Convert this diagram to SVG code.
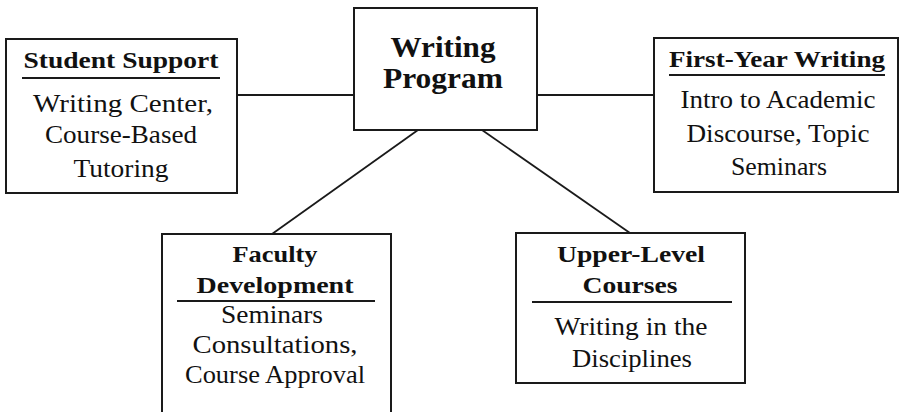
<svg xmlns="http://www.w3.org/2000/svg" width="900" height="412" viewBox="0 0 900 412">
<style>
.box{fill:#fff;stroke:#1a1a1a;stroke-width:2}
.rule{stroke:#1a1a1a;stroke-width:1.8}
.conn{stroke:#1a1a1a;stroke-width:1.8;fill:none}
.t{font-family:"Liberation Serif","Times New Roman",serif;fill:#111;text-anchor:middle}
.title{font-size:24px;font-weight:bold}
.body{font-size:25px}
.main{font-size:29px;font-weight:bold}
</style>
<rect width="900" height="412" fill="#fff"/>
<g id="connectors">
<line class="conn" x1="237" y1="95" x2="354" y2="95"/>
<line class="conn" x1="537" y1="95" x2="654" y2="95"/>
<line class="conn" x1="418" y1="130" x2="272" y2="234"/>
<line class="conn" x1="482" y1="130" x2="630" y2="233"/>
</g>
<g id="writing-program">
<rect class="box" x="354" y="8" width="183" height="122"/>
<text class="t main" x="443" y="57" textLength="105" lengthAdjust="spacingAndGlyphs">Writing</text>
<text class="t main" x="443" y="88" textLength="120" lengthAdjust="spacingAndGlyphs">Program</text>
</g>
<g id="student-support">
<rect class="box" x="6" y="39" width="231" height="154"/>
<text class="t title" x="121" y="68" textLength="195" lengthAdjust="spacingAndGlyphs">Student Support</text>
<line class="rule" x1="22" y1="78" x2="220" y2="78"/>
<text class="t body" x="123" y="112" textLength="180" lengthAdjust="spacingAndGlyphs">Writing Center,</text>
<text class="t body" x="121" y="143" textLength="152" lengthAdjust="spacingAndGlyphs">Course-Based</text>
<text class="t body" x="121" y="177" textLength="95" lengthAdjust="spacingAndGlyphs">Tutoring</text>
</g>
<g id="first-year-writing">
<rect class="box" x="654" y="38" width="244" height="154"/>
<text class="t title" x="777" y="67" textLength="216" lengthAdjust="spacingAndGlyphs">First-Year Writing</text>
<line class="rule" x1="669" y1="75" x2="885" y2="75"/>
<text class="t body" x="778" y="108" textLength="195" lengthAdjust="spacingAndGlyphs">Intro to Academic</text>
<text class="t body" x="778" y="142" textLength="183" lengthAdjust="spacingAndGlyphs">Discourse, Topic</text>
<text class="t body" x="779" y="175" textLength="96" lengthAdjust="spacingAndGlyphs">Seminars</text>
</g>
<g id="faculty-development">
<path class="box" d="M162,414 V234 H391 V414"/>
<text class="t title" x="275" y="262" textLength="85" lengthAdjust="spacingAndGlyphs">Faculty</text>
<text class="t title" x="275" y="293" textLength="157" lengthAdjust="spacingAndGlyphs">Development</text>
<line class="rule" x1="177" y1="301" x2="375" y2="301"/>
<text class="t body" x="272" y="323" textLength="102" lengthAdjust="spacingAndGlyphs">Seminars</text>
<text class="t body" x="275" y="353" textLength="165" lengthAdjust="spacingAndGlyphs">Consultations,</text>
<text class="t body" x="275" y="383" textLength="180" lengthAdjust="spacingAndGlyphs">Course Approval</text>
</g>
<g id="upper-level-courses">
<rect class="box" x="516" y="233" width="229" height="150"/>
<text class="t title" x="631" y="262" textLength="148" lengthAdjust="spacingAndGlyphs">Upper-Level</text>
<text class="t title" x="630" y="293" textLength="95" lengthAdjust="spacingAndGlyphs">Courses</text>
<line class="rule" x1="532" y1="302" x2="732" y2="302"/>
<text class="t body" x="631" y="335" textLength="153" lengthAdjust="spacingAndGlyphs">Writing in the</text>
<text class="t body" x="632" y="367" textLength="120" lengthAdjust="spacingAndGlyphs">Disciplines</text>
</g>
</svg>
